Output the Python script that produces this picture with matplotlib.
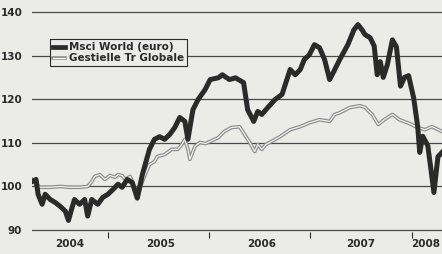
import matplotlib
matplotlib.use('Agg')
import matplotlib.pyplot as plt
from matplotlib.lines import Line2D

plt.rcParams['font.family'] = ['Liberation Sans Narrow', 'DejaVu Sans']
plt.rcParams['font.weight'] = 'bold'

# Msci World (euro), tempo in anni decimali
msci_t = [2004.25, 2004.29, 2004.31, 2004.35, 2004.38, 2004.43, 2004.48, 2004.53, 2004.58, 2004.61,
          2004.64, 2004.67, 2004.72, 2004.77, 2004.80, 2004.84, 2004.90, 2004.95, 2005.00, 2005.05,
          2005.10, 2005.14, 2005.19, 2005.24, 2005.29, 2005.34, 2005.41, 2005.46, 2005.51, 2005.56,
          2005.61, 2005.66, 2005.71, 2005.76, 2005.79, 2005.84, 2005.89, 2005.96, 2006.01, 2006.09,
          2006.13, 2006.20, 2006.26, 2006.34, 2006.38, 2006.44, 2006.48, 2006.52, 2006.58, 2006.65,
          2006.72, 2006.80, 2006.85, 2006.90, 2006.94, 2006.99, 2007.04, 2007.09, 2007.14, 2007.19,
          2007.23, 2007.29, 2007.37, 2007.43, 2007.47, 2007.51, 2007.54, 2007.59, 2007.63, 2007.66,
          2007.69, 2007.72, 2007.76, 2007.81, 2007.85, 2007.89, 2007.93, 2007.97, 2008.02, 2008.06,
          2008.08, 2008.11, 2008.16, 2008.19, 2008.22, 2008.26, 2008.30]
msci_v = [101.1, 101.6, 98.2, 95.9, 98.2, 97.0, 96.3, 95.4, 94.3, 92.2,
          94.7, 97.0, 95.9, 97.0, 93.2, 97.0, 95.9, 97.5, 98.2, 99.3,
          100.5, 99.8, 101.6, 100.9, 97.3, 102.7, 108.5, 110.8, 111.4, 110.8,
          111.9, 113.5, 115.8, 114.9, 110.8, 117.6, 119.9, 122.2, 124.5, 124.9,
          125.6, 124.5, 124.9, 123.8, 117.6, 114.9, 117.2, 116.5, 118.1, 119.9,
          121.1, 126.8, 125.6, 126.8, 129.1, 130.2, 132.5, 131.8, 129.1, 124.5,
          126.3, 129.1, 132.5, 135.9, 137.1, 135.9, 134.8, 134.1, 132.2, 125.6,
          128.6, 125.0, 127.9, 133.6, 132.0, 123.0, 125.0, 125.4, 120.3, 113.7,
          107.8, 111.5, 109.3, 104.0, 98.6, 106.8, 107.8]

# Gestielle Tr Globale
gest_t = [2004.25, 2004.29, 2004.33, 2004.43, 2004.53, 2004.62, 2004.72, 2004.80, 2004.84, 2004.87,
          2004.92, 2004.97, 2005.02, 2005.07, 2005.10, 2005.14, 2005.17, 2005.22, 2005.27, 2005.30,
          2005.34, 2005.38, 2005.41, 2005.46, 2005.49, 2005.56, 2005.63, 2005.69, 2005.73, 2005.76,
          2005.79, 2005.81, 2005.86, 2005.91, 2005.96, 2006.01, 2006.09, 2006.15, 2006.22, 2006.30,
          2006.35, 2006.40, 2006.45, 2006.48, 2006.52, 2006.56, 2006.60, 2006.70, 2006.80, 2006.90,
          2006.99, 2007.09, 2007.19, 2007.24, 2007.29, 2007.39, 2007.49, 2007.54, 2007.61, 2007.67,
          2007.73, 2007.81, 2007.88, 2007.98, 2008.06, 2008.13, 2008.20, 2008.30]
gest_v = [101.6, 100.5, 99.8, 99.8, 100.0, 99.8, 99.8, 100.0, 101.1, 102.3,
          102.7, 101.6, 102.5, 102.1, 102.7, 102.5, 101.6, 102.3, 99.3, 98.2,
          101.1, 103.4, 105.0, 105.7, 106.9, 107.3, 108.5, 108.5, 109.6, 110.8,
          108.5, 106.2, 109.2, 110.1, 109.8, 110.3, 111.2, 112.6, 113.5, 113.7,
          111.9, 110.1, 108.0, 109.6, 108.5, 109.6, 110.1, 111.4, 113.0, 113.7,
          114.6, 115.3, 114.9, 116.5, 116.9, 118.1, 118.5, 118.1, 116.5, 114.2,
          115.3, 116.5, 115.3, 114.4, 113.5, 113.0, 113.7, 112.6]

yticks = [90, 100, 110, 120, 130, 140]
year_bounds = [2005, 2006, 2007, 2008]
year_pos = [2004.62, 2005.52, 2006.52, 2007.50, 2008.14]
year_labels = ['2004', '2005', '2006', '2007', '2008']

bg = '#ebebe8'
ink = '#2a2a2a'

fig = plt.figure(figsize=(4.42, 2.54), dpi=100, facecolor=bg)
ax = fig.add_axes([32 / 442, 21.8 / 254, 410 / 442, 224.6 / 254], facecolor=bg)

for y in yticks:
    ax.axhline(y, color='#4a4a4a', lw=0.9, zorder=1)

ax.plot(gest_t, gest_v, color='#8a8a8a', lw=2.6, zorder=2, solid_joinstyle='round')
ax.plot(gest_t, gest_v, color='#f4f4f2', lw=0.9, zorder=3, solid_joinstyle='round')
ax.plot(msci_t, msci_v, color=ink, lw=3.6, zorder=4, solid_joinstyle='round')

ax.set_xlim(2004.25, 2008.30)
ax.set_ylim(89.5, 141)
for s in ax.spines.values():
    s.set_visible(False)

ax.set_yticks(yticks)
ax.set_yticklabels([str(v) for v in yticks])
ax.tick_params(axis='y', length=0, pad=7, labelsize=7.5, labelcolor=ink)

ax.set_xticks(year_bounds)
ax.set_xticklabels([])
ax.set_xticks(year_pos, minor=True)
ax.set_xticklabels(year_labels, minor=True)
ax.tick_params(axis='x', which='major', length=4, width=0.8, color=ink, direction='out')
ax.tick_params(axis='x', which='minor', length=0, pad=5, labelsize=7.5, labelcolor=ink)

h1 = Line2D([], [], color=ink, lw=3.4)
h2a = Line2D([], [], color='#8a8a8a', lw=2.6)
h2b = Line2D([], [], color='#f4f4f2', lw=0.9)
leg = ax.legend([h1, (h2a, h2b)], ['Msci World (euro)', 'Gestielle Tr Globale'],
                loc='upper left', bbox_to_anchor=(0.044, 0.86), borderaxespad=0,
                fontsize=7.5, handlelength=1.1, handletextpad=0.4, labelspacing=0.1,
                borderpad=0.3, fancybox=False, framealpha=1, facecolor=bg, edgecolor=ink)
leg.get_frame().set_linewidth(0.8)
for t in leg.get_texts():
    t.set_color(ink)

fig.savefig('out.png', dpi=100, facecolor=bg)
